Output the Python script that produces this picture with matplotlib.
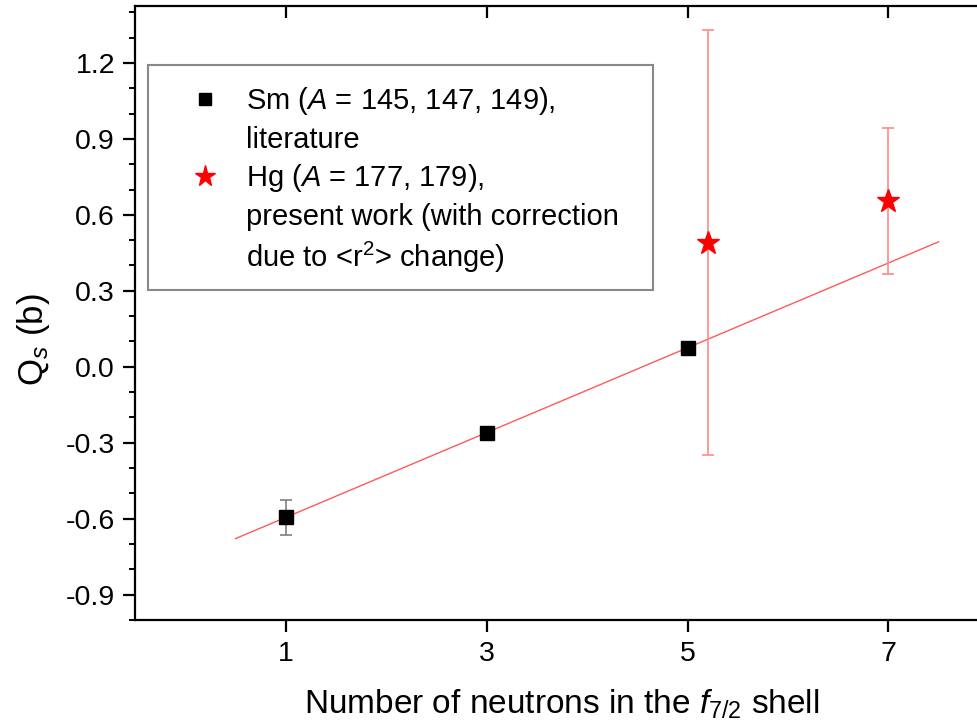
import numpy as np
import matplotlib
matplotlib.use("Agg")
import matplotlib.pyplot as plt
from matplotlib.lines import Line2D
from matplotlib.patches import Rectangle
from matplotlib.ticker import MultipleLocator, FixedLocator

plt.rcParams["font.family"] = ["Liberation Sans", "DejaVu Sans"]
plt.rcParams["mathtext.fontset"] = "custom"
plt.rcParams["mathtext.rm"] = "Liberation Sans"
plt.rcParams["mathtext.it"] = "Liberation Sans:italic"

# Sm isotopes (literature)
sm_n = [1, 3, 5]
sm_q = [-0.595, -0.26, 0.075]
sm_err = [0.07, 0.0, 0.0]

# Hg isotopes (present work)
hg_n = [5.2, 7]
hg_q = [0.49, 0.655]
hg_err = [0.84, 0.29]

# straight-line fit through the Sm points, drawn over this range
fit_range = [0.5, 7.5]

x_ticks = [1, 3, 5, 7]
y_ticks = [-0.9, -0.6, -0.3, 0.0, 0.3, 0.6, 0.9, 1.2]

fig = plt.figure(figsize=(9.77, 7.28), dpi=100)
ax = fig.add_axes([0.1382, 0.1484, 0.874, 0.8434])

slope, intercept = np.polyfit(sm_n, sm_q, 1)
fit_x = np.array(fit_range)
ax.plot(fit_x, slope * fit_x + intercept, color="#ff5a5a", lw=1.0, zorder=2)

ax.errorbar(hg_n, hg_q, yerr=hg_err, fmt="none", ecolor="#ff8a8a",
            elinewidth=1.2, capsize=4, capthick=1.2, zorder=3)
ax.errorbar(sm_n, sm_q, yerr=sm_err, fmt="none", ecolor="#808080",
            elinewidth=1.2, capsize=4, capthick=1.2, zorder=3)
sm_line, = ax.plot(sm_n, sm_q, "s", color="black", ms=10, zorder=4)
hg_line, = ax.plot(hg_n, hg_q, "*", color="red", ms=17, zorder=5)

ax.set_xlim(-0.5, 8.0)
ax.set_ylim(-1.0, 1.425)

ax.xaxis.set_major_locator(FixedLocator(x_ticks))
ax.yaxis.set_major_locator(FixedLocator(y_ticks))
ax.yaxis.set_minor_locator(MultipleLocator(0.1))
ax.set_yticklabels([f"{v:.1f}" for v in y_ticks])

ax.tick_params(axis="both", which="major", labelsize=20.5, width=1.6, length=8.5,
               direction="out")
ax.tick_params(axis="y", which="major", pad=6)
ax.tick_params(axis="x", which="major", pad=6.5)
ax.tick_params(axis="y", which="minor", width=1.4, length=4.5, direction="out")
ax.tick_params(axis="x", which="both", top=True, labeltop=False)
ax.tick_params(axis="y", which="major", right=True, labelright=False)
ax.tick_params(axis="y", which="minor", right=False)
ax.tick_params(axis="x", which="minor", bottom=False, top=False)
# ticks on the top and right spines point inward
for tick in ax.xaxis.get_major_ticks():
    tick.tick2line.set_marker(3)
for tick in ax.yaxis.get_major_ticks():
    tick.tick2line.set_marker(0)

for spine in ax.spines.values():
    spine.set_linewidth(1.6)

ax.set_xlabel("Number of neutrons in the $f_{7/2}$ shell", fontsize=24, labelpad=15)
ax.set_ylabel("Q$_\\mathit{s}$ (b)", fontsize=25)
ax.yaxis.set_label_coords(-0.097, 0.456)

# legend box
ax.add_patch(Rectangle((0.0152, 0.5375), 0.5914, 0.3664, transform=ax.transAxes,
                       facecolor="white", edgecolor="#888888", lw=1.5, zorder=6))

blank = Line2D([], [], linestyle="none")
handles = [sm_line, blank, hg_line, blank, blank]
labels = ["Sm ($A$ = 145, 147, 149),", "literature",
          "Hg ($A$ = 177, 179),", "present work (with correction",
          "due to <r$^2$> change)"]
leg = ax.legend(handles, labels, loc="upper left",
                bbox_to_anchor=(0.0649, 0.8713), fontsize=21,
                frameon=False, handlelength=1.0, handletextpad=0.9,
                labelspacing=0.3, borderpad=0.0, borderaxespad=0.0,
                markerscale=0.9)
leg.set_zorder(7)

fig.savefig("out.png", dpi=100)
